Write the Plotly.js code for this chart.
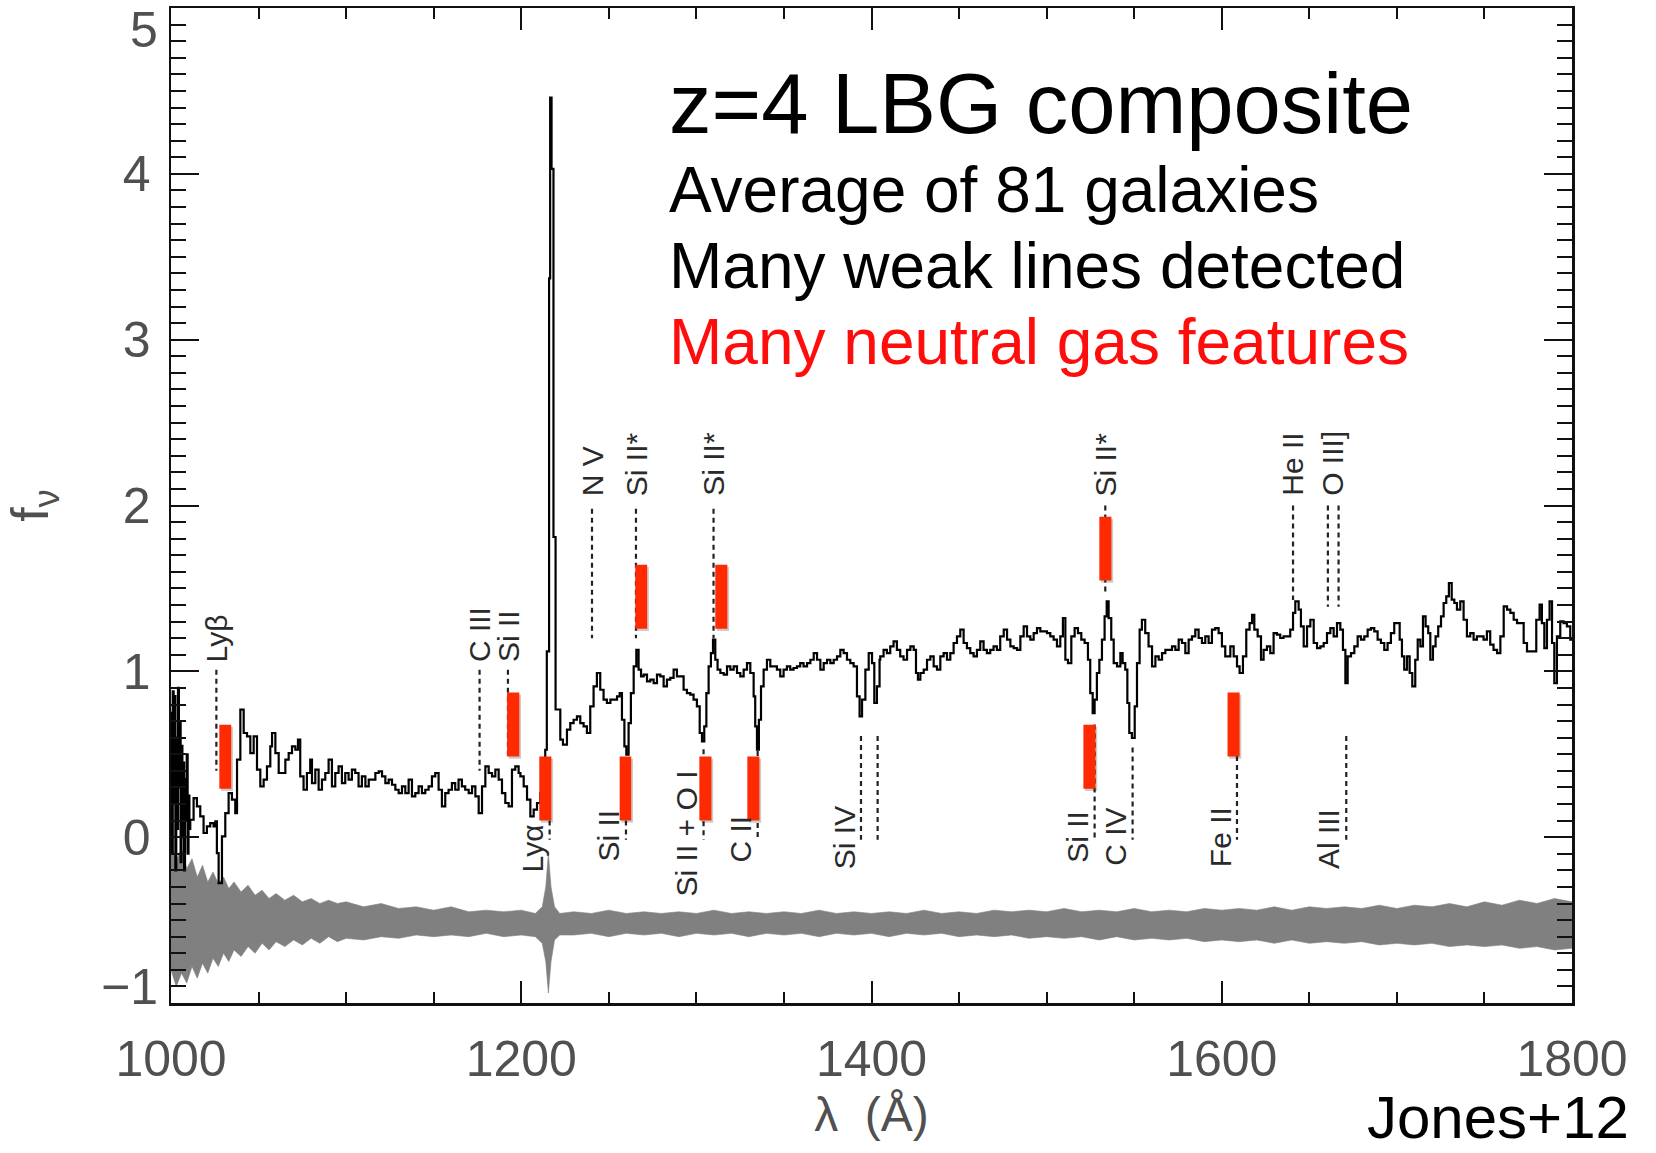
<!DOCTYPE html>
<html>
<head>
<meta charset="utf-8">
<script src="https://cdn.plot.ly/plotly-3.0.1.min.js"></script>
<style>html,body{margin:0;padding:0;background:#fff}</style>
</head>
<body>
<div id="chart" style="width:1656px;height:1153px"></div>
<script>
// Composite rest-frame UV spectrum (f_nu) of z~4 Lyman-break galaxies
const wave = [
  1000.0,1000.5,1001.0,1001.5,1002.0,1002.5,1003.0,1003.5,1004.0,1004.5,1005.0,1005.5,1006.0,1006.5,1007.0,1007.5,1008.0,1008.5,1009.0,1009.5,1010.0,1010.5,
  1011.0,1012.9,1014.8,1016.7,1018.6,1020.5,1022.4,1024.3,1025.3,1026.2,1027.2,1029.1,1031.0,1032.9,1034.8,1036.7,1037.7,1039.6,
  1041.5,1043.4,1045.3,1047.2,1049.1,1051.0,1052.9,1054.8,1056.7,1057.7,1059.6,1061.5,1063.4,1065.3,1067.2,1069.1,1071.0,1072.5,
  1073.8,1075.7,1077.6,1079.5,1080.5,1082.4,1084.3,1086.2,1088.1,1090.0,1091.9,1093.8,1095.7,1097.6,1099.5,1101.4,1103.3,1105.2,
  1107.1,1109.0,1111.0,1112.9,1114.8,1116.7,1118.6,1120.5,1122.4,1124.3,1126.2,1128.1,1130.0,1131.9,1133.8,1135.7,1137.6,1139.5,
  1141.4,1143.3,1145.2,1147.1,1149.0,1150.9,1152.8,1154.7,1156.6,1158.5,1160.4,1162.3,1164.2,1166.1,1168.0,1170.0,1171.9,1173.8,
  1175.7,1177.6,1179.5,1181.4,1183.3,1185.2,1187.1,1189.0,1190.9,1192.8,1194.7,1196.6,1198.5,1199.5,1201.4,1203.3,1205.2,1207.1,
  1209.0,1210.9,1212.3,1213.7,1214.6,1215.9,1216.5,1217.3,1218.4,1219.6,1222.3,1223.8,1226.1,1228.0,1229.9,1231.8,1233.7,1235.6,
  1237.5,1239.4,1241.3,1243.2,1245.1,1247.0,1248.9,1250.9,1252.8,1254.7,1256.2,1257.5,1258.9,1260.0,1261.3,1262.6,1264.2,1265.7,
  1267.0,1268.4,1269.9,1271.8,1273.7,1275.6,1277.5,1279.4,1281.3,1283.2,1285.1,1287.0,1288.9,1290.8,1292.7,1294.6,1296.5,1298.4,
  1300.3,1301.9,1303.2,1304.5,1305.7,1307.0,1308.3,1309.5,1310.8,1312.1,1313.7,1315.6,1317.5,1319.4,1321.3,1323.2,1325.1,1327.0,
  1328.9,1330.8,1332.7,1333.6,1334.6,1335.7,1336.9,1338.4,1340.3,1342.2,1344.1,1346.0,1347.9,1349.8,1351.7,1353.6,1355.5,1357.4,
  1359.3,1361.2,1363.2,1365.1,1367.0,1368.9,1370.8,1372.7,1374.6,1376.5,1378.4,1380.3,1382.2,1384.1,1386.0,1387.9,1389.8,1391.7,
  1393.2,1394.6,1396.5,1398.4,1400.3,1401.6,1403.1,1404.6,1405.0,1406.9,1408.8,1410.7,1412.6,1414.5,1416.4,1418.3,1420.3,1422.2,
  1424.1,1425.4,1426.5,1427.9,1429.8,1431.7,1433.6,1435.5,1437.4,1439.3,1441.2,1443.1,1445.0,1446.9,1448.8,1450.7,1452.6,1454.5,
  1456.4,1458.3,1460.2,1462.1,1464.0,1465.9,1467.8,1469.7,1471.6,1473.5,1475.5,1477.4,1479.3,1481.2,1483.1,1485.0,1486.9,1488.8,
  1490.7,1492.6,1494.5,1496.4,1498.3,1500.2,1502.1,1504.0,1505.9,1507.8,1509.3,1510.7,1512.2,1514.1,1516.0,1517.9,1519.8,1521.7,
  1523.6,1524.9,1526.3,1527.4,1528.7,1530.1,1531.6,1533.1,1534.3,1535.4,1536.9,1538.3,1540.2,1542.1,1543.4,1544.9,1546.1,1547.2,
  1548.7,1550.3,1551.6,1553.1,1554.4,1556.3,1558.2,1560.2,1562.1,1564.0,1565.9,1567.8,1569.7,1571.6,1573.5,1575.4,1577.3,1579.2,
  1581.1,1583.0,1584.9,1586.8,1588.7,1590.6,1592.5,1594.4,1596.3,1598.2,1600.1,1602.0,1604.9,1606.8,1608.7,1610.2,1612.1,1614.0,
  1615.9,1617.3,1618.6,1620.5,1622.4,1623.9,1625.8,1627.7,1629.6,1631.5,1633.4,1635.3,1637.2,1639.1,1640.7,1642.0,1643.9,1645.2,
  1646.8,1648.7,1650.6,1652.5,1654.4,1656.3,1658.2,1660.1,1662.0,1663.9,1665.8,1667.7,1669.2,1670.6,1671.9,1673.8,1675.7,1677.6,
  1679.5,1681.4,1683.3,1685.2,1687.1,1689.0,1690.9,1692.8,1694.7,1696.6,1698.5,1700.0,1701.6,1702.9,1704.2,1705.8,1707.3,1708.8,
  1710.5,1711.9,1713.4,1714.9,1716.4,1717.9,1719.1,1720.6,1722.1,1723.6,1725.2,1726.7,1728.2,1729.7,1731.3,1732.8,1734.3,1736.2,
  1738.1,1740.0,1741.9,1743.8,1745.7,1747.6,1749.5,1751.4,1753.3,1755.2,1757.2,1759.1,1761.0,1762.9,1764.8,1766.7,1768.6,1770.5,
  1772.4,1774.3,1776.2,1778.1,1779.6,1781.5,1782.8,1784.2,1785.7,1787.2,1788.6,1789.9,1791.4,1793.3,1795.2,1797.1,1799.0,1800.0
];
const flux = [
  0.75,-0.10,0.88,0.20,0.85,-0.20,0.60,0.05,0.90,0.30,0.70,-0.15,0.55,0.00,0.45,-0.20,0.35,0.10,0.50,-0.10,0.25,0.05,
  0.105,0.236,0.186,0.125,0.025,0.065,0.085,0.065,0.095,-0.096,-0.277,0.005,0.145,0.266,0.226,0.145,0.467,0.769,
  0.628,0.608,0.507,0.608,0.407,0.306,0.347,0.427,0.547,0.628,0.507,0.387,0.387,0.467,0.507,0.547,0.527,0.588,
  0.367,0.286,0.387,0.467,0.326,0.407,0.286,0.347,0.387,0.467,0.306,0.387,0.427,0.326,0.387,0.347,0.407,0.387,
  0.306,0.367,0.306,0.347,0.347,0.387,0.397,0.367,0.326,0.347,0.316,0.286,0.266,0.306,0.266,0.347,0.246,0.266,
  0.306,0.266,0.286,0.306,0.367,0.387,0.286,0.186,0.266,0.286,0.326,0.286,0.347,0.306,0.286,0.266,0.306,0.246,
  0.145,0.306,0.427,0.387,0.367,0.407,0.347,0.266,0.206,0.186,0.407,0.427,0.387,0.367,0.306,0.226,0.125,0.166,
  0.206,0.266,0.300,0.527,1.120,3.370,4.460,4.030,1.810,0.770,0.588,0.558,0.648,0.688,0.708,0.728,0.688,0.668,
  0.628,0.789,0.909,0.990,0.889,0.829,0.809,0.829,0.829,0.849,0.869,0.708,0.547,0.497,0.688,0.869,1.030,1.130,
  1.010,0.970,0.980,0.939,0.950,0.929,0.980,0.970,0.909,0.950,0.960,1.010,0.970,0.970,0.889,0.869,0.859,0.829,
  0.789,0.628,0.578,0.668,0.869,1.030,1.110,1.191,1.070,1.010,0.990,0.980,1.030,1.010,1.030,0.990,0.970,1.010,
  1.050,0.990,0.849,0.668,0.527,0.708,0.909,1.010,1.070,1.030,1.030,1.010,0.970,1.010,1.030,1.010,1.020,1.030,
  1.050,1.030,1.050,1.070,1.110,1.070,1.010,1.050,1.070,1.050,1.070,1.090,1.130,1.110,1.070,1.050,1.030,0.849,
  0.728,0.829,1.010,1.110,1.050,0.809,0.909,1.070,1.090,1.130,1.110,1.150,1.181,1.130,1.090,1.070,1.130,1.150,
  1.130,0.990,0.950,0.990,1.010,1.070,1.090,1.030,1.010,1.090,1.110,1.070,1.110,1.171,1.211,1.251,1.171,1.140,
  1.110,1.090,1.130,1.181,1.130,1.110,1.130,1.150,1.130,1.211,1.251,1.191,1.150,1.140,1.130,1.211,1.271,1.211,
  1.191,1.231,1.261,1.241,1.241,1.231,1.211,1.191,1.150,1.211,1.321,1.070,1.050,1.211,1.261,1.231,1.191,1.171,
  1.070,0.869,0.748,0.829,0.990,1.070,1.191,1.331,1.422,1.321,1.191,1.050,1.030,1.110,1.050,1.010,0.809,0.628,
  0.598,0.789,1.050,1.251,1.311,1.231,1.150,1.030,1.090,1.070,1.110,1.130,1.130,1.150,1.130,1.191,1.171,1.110,
  1.191,1.211,1.251,1.201,1.171,1.211,1.171,1.251,1.261,1.231,1.150,1.090,1.150,1.090,1.030,0.990,1.090,1.251,
  1.291,1.341,1.251,1.211,1.070,1.130,1.150,1.110,1.231,1.221,1.201,1.211,1.211,1.251,1.352,1.422,1.372,1.271,
  1.150,1.271,1.311,1.171,1.140,1.150,1.171,1.231,1.261,1.211,1.291,1.251,1.130,0.929,1.090,1.110,1.150,1.211,
  1.191,1.211,1.251,1.261,1.241,1.191,1.171,1.130,1.171,1.231,1.291,1.291,1.191,1.090,1.010,1.090,0.990,0.909,
  1.070,1.191,1.150,1.331,1.271,1.231,1.070,1.150,1.211,1.271,1.331,1.412,1.452,1.532,1.432,1.412,1.372,1.422,
  1.311,1.211,1.231,1.191,1.211,1.211,1.191,1.241,1.161,1.130,1.110,1.211,1.392,1.372,1.352,1.311,1.291,1.291,
  1.171,1.120,1.120,1.120,1.311,1.402,1.291,1.140,1.311,1.422,1.171,0.929,1.211,1.301,1.291,1.271,1.191,1.191
];

// Error spectrum, drawn as a band around its own zero level
const noiseWave = [
  1000,1003,1006,1009,1012,1015,1018,1021,1024,1027,1030,1033,1036,1040,1044,1048,1052,1056,1060,1065,1070,1075,1080,1085,1090,1095,
  1100,1110,1120,1130,1140,1150,1160,1170,1180,1190,1200,1208,1212,1214,1215.5,1217,1219,1222,1230,1240,1250,1260,1270,1280,1290,
  1300,1310,1320,1330,1340,1350,1360,1370,1380,1390,1400,1410,1420,1430,1440,1450,1460,1470,1480,1490,1500,1510,1520,1530,1540,
  1550,1560,1570,1580,1590,1600,1610,1620,1630,1640,1650,1660,1670,1680,1690,1700,1710,1720,1730,1740,1750,1760,1770,1780,1790,1800
];
const noiseHigh = [
  -0.05,-0.14,-0.07,-0.19,-0.13,-0.24,-0.17,-0.27,-0.21,-0.28,-0.24,-0.31,-0.27,-0.33,-0.29,-0.35,-0.32,-0.37,-0.34,-0.38,-0.35,-0.39,-0.37,-0.40,-0.38,-0.40,
  -0.39,-0.42,-0.40,-0.43,-0.42,-0.44,-0.42,-0.45,-0.44,-0.45,-0.44,-0.46,-0.42,-0.30,-0.10,-0.30,-0.42,-0.46,-0.45,-0.46,-0.44,-0.46,-0.45,-0.46,-0.45,
  -0.46,-0.44,-0.46,-0.45,-0.46,-0.45,-0.46,-0.44,-0.46,-0.45,-0.46,-0.45,-0.46,-0.44,-0.46,-0.45,-0.46,-0.44,-0.45,-0.44,-0.45,-0.43,-0.45,-0.44,-0.45,
  -0.43,-0.45,-0.44,-0.45,-0.43,-0.44,-0.43,-0.44,-0.42,-0.44,-0.42,-0.43,-0.42,-0.43,-0.41,-0.43,-0.41,-0.42,-0.40,-0.42,-0.39,-0.41,-0.38,-0.40,-0.37,-0.39
];
const noiseLow = [
  -0.80,-0.90,-0.82,-0.88,-0.78,-0.85,-0.76,-0.82,-0.73,-0.78,-0.70,-0.75,-0.68,-0.72,-0.66,-0.70,-0.64,-0.68,-0.63,-0.66,-0.62,-0.65,-0.61,-0.64,-0.60,-0.63,
  -0.61,-0.62,-0.60,-0.61,-0.59,-0.60,-0.59,-0.60,-0.58,-0.60,-0.59,-0.60,-0.64,-0.75,-0.94,-0.75,-0.62,-0.59,-0.59,-0.58,-0.60,-0.58,-0.59,-0.58,-0.60,
  -0.58,-0.59,-0.58,-0.60,-0.58,-0.59,-0.58,-0.60,-0.58,-0.59,-0.58,-0.60,-0.58,-0.59,-0.58,-0.60,-0.59,-0.60,-0.59,-0.61,-0.60,-0.61,-0.60,-0.62,-0.60,
  -0.62,-0.61,-0.62,-0.61,-0.63,-0.62,-0.63,-0.62,-0.64,-0.62,-0.64,-0.63,-0.64,-0.63,-0.65,-0.64,-0.65,-0.64,-0.66,-0.65,-0.66,-0.65,-0.67,-0.66,-0.68,-0.67
];

// Line identifications above the continuum
const upperLabels = ['Lyβ','C III','Si II','N V','Si II*','Si II*','Si II*','He II','O III]'];
const upperLabelWave = [1025.9,1176.2,1192.4,1240.4,1265.5,1309.8,1533.5,1640.7,1663.6];
const upperLabelBase = [1.05,1.05,1.05,2.05,2.05,2.05,2.05,2.05,2.05];
const upperLineWave = [1025.9,1176.2,1192.4,1240.4,1265.5,1309.8,1533.5,1640.7,1660.6,1666.7];
const upperLineTop = [1.01,1.01,1.01,1.98,1.98,1.98,2.00,2.00,2.00,2.00];
const upperLineBottom = [0.40,0.40,0.49,1.20,1.20,1.20,1.47,1.43,1.39,1.39];

// Line identifications below the continuum
const lowerLabels = ['Lyα','Si II','Si II + O I','C II','Si IV','Si II','C IV','Fe II','Al III'];
const lowerLabelWave = [1216.2,1259.8,1304.1,1335.0,1394.0,1527.4,1549.1,1608.7,1671.1];
const lowerLabelMid = [-0.07,0.01,0.02,-0.01,0.00,0.00,0.00,0.00,-0.01];
const lowerLineWave = [1216.2,1259.8,1304.1,1335.0,1394.0,1403.5,1527.4,1549.1,1608.7,1671.1];
const lowerLineTop = [0.48,0.48,0.53,0.52,0.61,0.61,0.68,0.54,0.49,0.61];
const lowerLineBottom = [-0.016,-0.016,-0.016,-0.016,-0.016,-0.016,-0.016,-0.016,-0.016,-0.016];

// Neutral-gas feature markers
const barWaveLo = [1027.6,1191.9,1210.3,1256.2,1265.1,1301.7,1310.8,1329.1,1521.0,1530.1,1603.3];
const barWaveHi = [1034.4,1198.9,1217.2,1262.8,1271.9,1308.6,1317.7,1336.0,1527.9,1537.0,1610.2];
const barFluxLo = [0.292,0.487,0.101,0.101,1.257,0.101,1.257,0.101,0.292,1.548,0.487];
const barFluxHi = [0.678,0.873,0.487,0.487,1.643,0.487,1.643,0.487,0.678,1.932,0.873];

// Axis ticks
const xTickVals = [1000,1200,1400,1600,1800];
const xTickText = ['1000','1200','1400','1600','1800'];
const yTickVals = [0,1,2,3,4];
const yTickText = ['0','1','2','3','4'];
const yEndVals = [5,-1];
const yEndText = ['5','\u22121'];

// Text block
const headline = 'z=4 LBG composite';
const notes = ['Average of 81 galaxies','Many weak lines detected'];
const highlight = 'Many neutral gas features';
const credit = 'Jones+12';

const tickFont = {family:'Liberation Sans, Arial, sans-serif', size:50, color:'#505050'};
const idFont = {family:'Liberation Sans, Arial, sans-serif', size:30, color:'#2a2a2a'};
const dotted = {color:'#222', width:2.2, dash:'5px,4px'};

const traces = [
  {x:noiseWave, y:noiseLow, mode:'lines', line:{color:'#808080', width:0.6}, hoverinfo:'skip'},
  {x:noiseWave, y:noiseHigh, mode:'lines', fill:'tonexty', fillcolor:'#808080', line:{color:'#808080', width:0.6}, hoverinfo:'skip'},
  {x:wave, y:flux, mode:'lines', line:{color:'#000', width:2.2, shape:'hv'}, hoverinfo:'skip'}
];

const shapes = [];
upperLineWave.forEach((w,i) => shapes.push({type:'line', xref:'x', yref:'y', x0:w, x1:w, y0:upperLineTop[i], y1:upperLineBottom[i], line:dotted}));
lowerLineWave.forEach((w,i) => shapes.push({type:'line', xref:'x', yref:'y', x0:w, x1:w, y0:lowerLineTop[i], y1:lowerLineBottom[i], line:dotted}));
barWaveLo.forEach((w,i) => shapes.push({type:'rect', xref:'x', yref:'y', x0:w+1.0, x1:barWaveHi[i]+1.0, y0:barFluxLo[i]-0.014, y1:barFluxHi[i]-0.014, fillcolor:'rgba(0,0,0,0.2)', line:{width:0}}));
barWaveLo.forEach((w,i) => shapes.push({type:'rect', xref:'x', yref:'y', x0:w, x1:barWaveHi[i], y0:barFluxLo[i], y1:barFluxHi[i], fillcolor:'#ff2a00', line:{width:0}}));

const annotations = [];
upperLabels.forEach((t,i) => annotations.push({text:t, xref:'x', yref:'y', x:upperLabelWave[i], y:upperLabelBase[i], xanchor:'center', yanchor:'bottom', textangle:-90, showarrow:false, font:idFont, borderpad:0}));
lowerLabels.forEach((t,i) => annotations.push({text:t, xref:'x', yref:'y', x:lowerLabelWave[i], y:lowerLabelMid[i], xanchor:'center', yanchor:'middle', xshift:-17, textangle:-90, showarrow:false, font:idFont, borderpad:0}));
// end labels of the flux axis sit just inside the frame
yEndVals.forEach((v,i) => annotations.push({text:yEndText[i], xref:'paper', yref:'y', x:0, y:v, xanchor:'right', yanchor:'middle', xshift:-12, yshift:(v > 0 ? -22 : 16), showarrow:false, borderpad:0, font:tickFont}));
// text block
const txtFont = {family:'Liberation Sans, Arial, sans-serif', color:'#000'};
annotations.push({text:headline, xref:'paper', yref:'paper', x:0.3547, y:0.8553, xanchor:'left', yanchor:'bottom', showarrow:false, borderpad:0, font:Object.assign({}, txtFont, {size:85})});
annotations.push({text:notes[0], xref:'paper', yref:'paper', x:0.3547, y:0.7795, xanchor:'left', yanchor:'bottom', showarrow:false, borderpad:0, font:Object.assign({}, txtFont, {size:64})});
annotations.push({text:notes[1], xref:'paper', yref:'paper', x:0.3547, y:0.7031, xanchor:'left', yanchor:'bottom', showarrow:false, borderpad:0, font:Object.assign({}, txtFont, {size:64})});
annotations.push({text:highlight, xref:'paper', yref:'paper', x:0.3547, y:0.6267, xanchor:'left', yanchor:'bottom', showarrow:false, borderpad:0, font:Object.assign({}, txtFont, {size:64, color:'#ff0d0d'})});
annotations.push({text:credit, xref:'paper', yref:'paper', x:1.0414, y:-0.1500, xanchor:'right', yanchor:'bottom', showarrow:false, borderpad:0, font:Object.assign({}, txtFont, {size:60})});

const axisCommon = {
  showline:true, linewidth:2.5, linecolor:'#111', mirror:'allticks',
  ticks:'inside', tickcolor:'#111', tickwidth:2,
  showgrid:false, zeroline:false, tickfont:tickFont, automargin:false
};

const layout = {
  width:1656, height:1153,
  margin:{l:171, r:84, t:8, b:150},
  paper_bgcolor:'#fff', plot_bgcolor:'#fff',
  showlegend:false,
  xaxis:Object.assign({}, axisCommon, {
    range:[1000,1800], tickmode:'array', tickvals:xTickVals, ticktext:xTickText,
    ticklen:22, ticklabelstandoff:10,
    minor:{dtick:50, tick0:1000, ticklen:11, ticks:'inside', tickwidth:2, tickcolor:'#111'},
    title:{text:'λ  (Å)', font:{family:'Liberation Sans, Arial, sans-serif', size:48, color:'#505050'}, standoff:12}
  }),
  yaxis:Object.assign({}, axisCommon, {
    range:[-1,5], tickmode:'array', tickvals:yTickVals, ticktext:yTickText,
    ticklen:28, ticklabelstandoff:8,
    minor:{dtick:0.1, tick0:0, ticklen:15, ticks:'inside', tickwidth:2, tickcolor:'#111'},
    title:{text:'f<sub>ν</sub>', font:{family:'Liberation Sans, Arial, sans-serif', size:52, color:'#505050'}, standoff:58}
  }),
  shapes:shapes,
  annotations:annotations
};

Plotly.newPlot('chart', traces, layout, {displayModeBar:false, staticPlot:true});
</script>
</body>
</html>
